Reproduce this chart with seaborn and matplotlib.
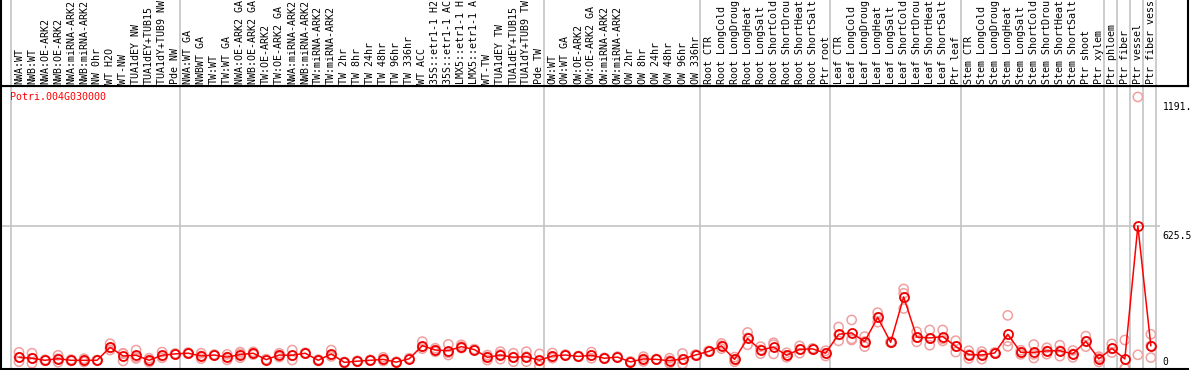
import numpy as np
import pandas as pd
import matplotlib
matplotlib.use("Agg")
import matplotlib.pyplot as plt
import seaborn as sns

# ---------------- data ----------------
gene_id = "Potri.004G030000"

categories = [
    "NWA:WT", "NWB:WT", "NWA:OE-ARK2", "NWB:OE-ARK2", "NWA:miRNA-ARK2", "NWB:miRNA-ARK2",
    "NW 0hr", "WT H2O", "WT-NW", "TUA1dEY NW", "TUA1dEY+TUB15", "TUA1dY+TUB9 NW", "Pde NW",
    "NWA:WT GA", "NWBWT GA", "TW:WT", "TW:WT GA", "NWA:OE-ARK2 GA", "NWB:OE-ARK2 GA",
    "TW:OE-ARK2", "TW:OE-ARK2 GA", "NWA:miRNA-ARK2", "NWB:miRNA-ARK2", "TW:miRNA-ARK2",
    "TW:miRNA-ARK2", "TW 2hr", "TW 8hr", "TW 24hr", "TW 48hr", "TW 96hr", "TW 336hr",
    "WT ACC", "35S::etr1-1 H2", "35S::etr1-1 AC", "LMX5::etr1-1 H", "LMX5::etr1-1 A",
    "WT-TW", "TUA1dEY TW", "TUA1dEY+TUB15", "TUA1dY+TUB9 TW", "Pde TW",
    "OW:WT", "OW:WT GA", "OW:OE-ARK2", "OW:OE-ARK2 GA", "OW:miRNA-ARK2", "OW:miRNA-ARK2",
    "OW 2hr", "OW 8hr", "OW 24hr", "OW 48hr", "OW 96hr", "OW 336hr",
    "Root CTR", "Root LongCold", "Root LongDroug", "Root LongHeat", "Root LongSalt",
    "Root ShortCold", "Root ShortDrou", "Root ShortHeat", "Root ShortSalt", "Ptr root",
    "Leaf CTR", "Leaf LongCold", "Leaf LongDroug", "Leaf LongHeat", "Leaf LongSalt",
    "Leaf ShortCold", "Leaf ShortDrou", "Leaf ShortHeat", "Leaf ShortSalt", "Ptr leaf",
    "Stem CTR", "Stem LongCold", "Stem LongDroug", "Stem LongHeat", "Stem LongSalt",
    "Stem ShortCold", "Stem ShortDrou", "Stem ShortHeat", "Stem ShortSalt",
    "Ptr shoot", "Ptr xylem", "Ptr phloem", "Ptr fiber", "Ptr vessel", "Ptr fiber vess",
]

mean_values = [
    49, 45, 36, 43, 36, 36, 36, 93, 55, 58, 36, 58, 64, 67,
    55, 59, 50, 61, 67, 39, 59, 58, 67, 36, 64, 27, 32, 36, 40, 28,
    43, 100, 81, 78, 96, 83, 49, 59, 49, 52, 36, 55, 59, 53,
    58, 45, 50, 29, 42, 40, 34, 42, 59, 75, 99, 40, 132, 81, 94,
    58, 84, 86, 67, 150, 156, 118, 224, 115, 314, 138, 134, 140, 97, 61,
    59, 68, 150, 71, 71, 77, 78, 64, 119, 42, 88, 42, 625.5, 99,
]

rep1 = [
    71, 67, 34, 58, 33, 43, 35, 109, 67, 81, 45, 72, 62, 65,
    67, 57, 62, 72, 73, 37, 67, 81, 65, 33, 81, 25, 30, 34, 49, 26,
    41, 118, 89, 106, 104, 81, 59, 74, 67, 74, 64, 68, 57, 51,
    72, 43, 48, 27, 52, 38, 45, 66, 57, 73, 110, 50, 158, 96, 113,
    69, 99, 84, 78, 182, 213, 140, 245, 113, 349, 161, 169, 169, 122, 78,
    74, 66, 233, 80, 105, 91, 102, 79, 142, 52, 108, 125, 1191, 150,
]
rep2 = [
    49, 45, 37, 43, 36, 36, 36, 90, 33, 49, 36, 55, 64, 67,
    55, 59, 50, 64, 67, 39, 59, 56, 67, 36, 58, 27, 32, 36, 38, 28,
    43, 95, 81, 69, 96, 83, 51, 62, 50, 52, 33, 52, 59, 53,
    57, 45, 50, 29, 42, 40, 34, 40, 59, 75, 100, 40, 134, 82, 105,
    58, 84, 86, 67, 147, 130, 118, 224, 115, 330, 136, 131, 130, 97, 61,
    62, 68, 120, 71, 62, 77, 78, 64, 119, 45, 86, 1, 60, 99,
]
rep3 = [
    30, 23, 38, 28, 39, 29, 37, 81, 65, 44, 28, 47, 66, 70,
    43, 61, 38, 47, 61, 41, 50, 37, 69, 39, 53, 29, 34, 38, 33, 30,
    45, 87, 73, 59, 89, 85, 37, 41, 30, 30, 11, 45, 61, 55,
    45, 47, 52, 31, 31, 42, 23, 20, 61, 77, 87, 30, 104, 65, 64,
    49, 67, 88, 55, 121, 125, 96, 203, 117, 263, 117, 102, 121, 72, 44,
    41, 70, 97, 62, 46, 63, 54, 49, 96, 29, 70, 0, np.nan, 48,
]

axis_labels = ["1191.", "625.5", "0"]
axis_label_values = [1191, 625.5, 0]
grid_value = 625.5
group_bounds = [-0.63, 12.37, 40.37, 52.37, 62.37, 72.37, 83.37, 84.37, 85.37, 86.37, 87.37]

# ---------------- styling ----------------
sns.set_style("white")
plt.rcParams["font.family"] = ["DejaVu Sans Mono"]

W, H = 1194, 370
fig = plt.figure(figsize=(W / 100, H / 100), dpi=100)

def px_rect(x0, y0, x1, y1):
    # pixel coords from top-left -> figure fraction rect
    return [x0 / W, 1 - y1 / H, (x1 - x0) / W, (y1 - y0) / H]

ax = fig.add_axes(px_rect(1, 86, 1188, 368.5))
ax_lab = fig.add_axes(px_rect(1, 0, 1188, 86), sharex=ax)

idx = np.arange(len(categories))
x0_data = (1 - 19) / 13.01
x1_data = (1188 - 19) / 13.01
ax.set_xlim(x0_data, x1_data)
ax.set_ylim(0, 1239)

gray = "#c4c4c4"
for b in group_bounds:
    ax.axvline(b, color=gray, lw=1.2, zorder=0)
    ax_lab.axvline(b, color=gray, lw=1.2, zorder=0)

ax.hlines(grid_value, x0_data, (1160 - 19) / 13.01, color=gray, lw=1.2, zorder=0)

# replicates
reps = pd.DataFrame({
    "x": np.concatenate([idx, idx, idx]),
    "value": np.concatenate([rep1, rep2, rep3]),
}).dropna()
sns.scatterplot(data=reps, x="x", y="value", ax=ax, marker="o", s=44,
                facecolor="none", edgecolor="#f0a0a0", linewidth=1.1,
                zorder=2, legend=False, clip_on=True)

# means
means = pd.DataFrame({"x": idx, "value": mean_values})
sns.lineplot(data=means, x="x", y="value", ax=ax, color="#ff0000", lw=1.1,
             marker="o", markersize=6.5, markerfacecolor="none",
             markeredgecolor="#ee0000", markeredgewidth=1.3, zorder=3,
             legend=False)

# axis value labels on the right
for lab, v in zip(axis_labels, axis_label_values):
    if v == 0:
        ax.text(87.92, 8, lab, ha="left", va="bottom", fontsize=7.0,
                color="black", clip_on=False, zorder=5)
    else:
        ax.annotate(lab, (87.92, v), xytext=(0, -4), textcoords="offset points",
                    ha="left", va="top", fontsize=7.0, color="black",
                    annotation_clip=False, zorder=5)

ax.text((10 - 1) / 1187, (368.5 - 97) / 282.5, gene_id, transform=ax.transAxes,
        ha="left", va="center", fontsize=7.2, color="#ff0000")

ax.set_xlabel("")
ax.set_ylabel("")
ax.set_xticks([])
ax.set_yticks([])
for s in ax.spines.values():
    s.set_visible(True)
    s.set_color("black")
    s.set_linewidth(1.5)
ax.spines["right"].set_visible(False)

# category labels
ax_lab.set_ylim(0, 1)
for i, c in zip(idx, categories):
    ax_lab.text(i, 0.025, c, rotation=90, ha="center", va="bottom",
                fontsize=7.2, color="black", clip_on=True)
ax_lab.set_xticks([])
ax_lab.set_yticks([])
ax_lab.spines["top"].set_visible(False)
for k in ["left", "right", "bottom"]:
    ax_lab.spines[k].set_color("black")
    ax_lab.spines[k].set_linewidth(1.5)

fig.savefig("out.png", dpi=100)
